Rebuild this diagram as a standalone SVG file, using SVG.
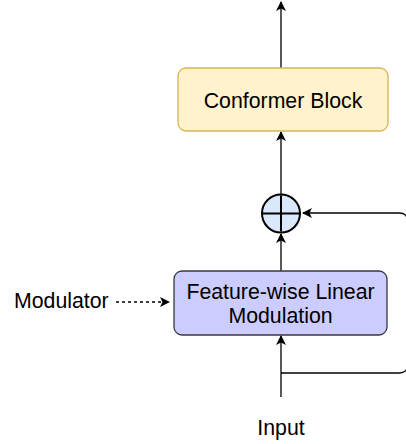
<svg xmlns="http://www.w3.org/2000/svg" width="406" height="444" viewBox="0 0 406 444">
<style>
text{font-family:"Liberation Sans",Arial,Helvetica,sans-serif;font-size:21.3px;fill:#000}
.c{stroke:#000;stroke-width:1.3;fill:none}
</style>
<defs>
<marker id="a" markerWidth="10" markerHeight="10" viewBox="0 0 10 10" refX="9" refY="5" orient="auto" markerUnits="userSpaceOnUse">
<path d="M0,0 L10,5 L0,10 L2.5,5 Z" fill="#000"/>
</marker>
</defs>
<rect width="406" height="444" fill="#fff"/>
<g id="connectors">
<path class="c" d="M281,68 V2" marker-end="url(#a)"/>
<path class="c" d="M281,194 V132" marker-end="url(#a)"/>
<path class="c" d="M281,271 V234" marker-end="url(#a)"/>
<path class="c" d="M281,397 V336" marker-end="url(#a)"/>
<path class="c" d="M281,373 H399 Q407.5,373 407.5,365 V221 Q407.5,213 399,213 H303" marker-end="url(#a)"/>
<path class="c" d="M116,302 H169" stroke-dasharray="3 3" marker-end="url(#a)"/>
</g>
<g id="conformer">
<rect x="178" y="68" width="210" height="63" rx="8" fill="#fff2cc" stroke="#d6b656" stroke-width="1.3"/>
<text x="283" y="107.5" text-anchor="middle">Conformer Block</text>
</g>
<g id="sum">
<circle cx="281" cy="213.5" r="19" fill="#dae8fc" stroke="#000" stroke-width="2"/>
<path d="M263,213.5 H299 M281,195.5 V231.5" stroke="#000" stroke-width="2"/>
</g>
<g id="film">
<rect x="174" y="271" width="213" height="64" rx="8" fill="#ccccff" stroke="#36393d" stroke-width="1.3"/>
<text x="280.5" y="299" text-anchor="middle">Feature-wise Linear</text>
<text x="280.5" y="323" text-anchor="middle">Modulation</text>
</g>
<g id="modulator">
<text x="14" y="308">Modulator</text>
</g>
<g id="input">
<text x="281" y="435" text-anchor="middle">Input</text>
</g>
</svg>
